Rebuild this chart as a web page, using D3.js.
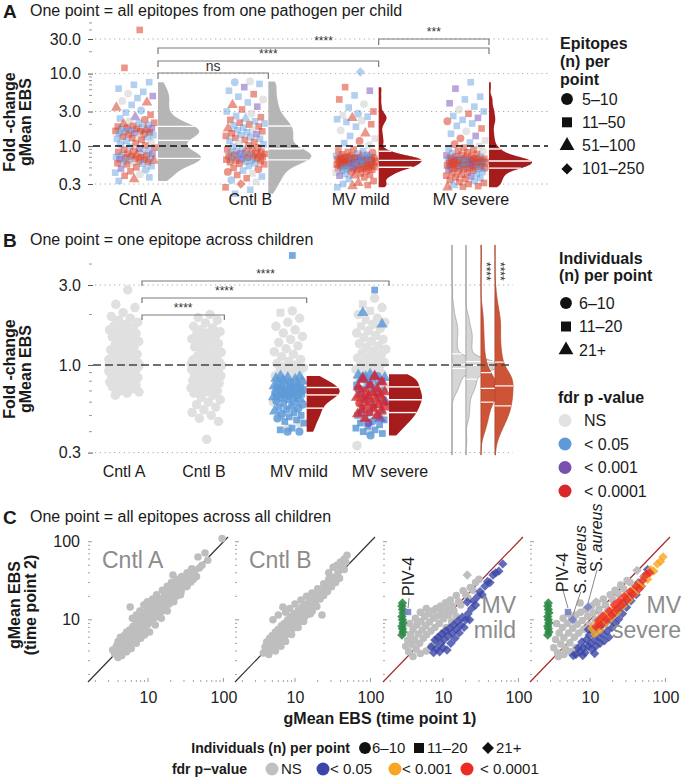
<!DOCTYPE html>
<html><head><meta charset="utf-8">
<script src="https://cdn.jsdelivr.net/npm/d3@7/dist/d3.min.js"></script>
<style>
html,body{margin:0;padding:0;background:#fff;}
svg{display:block;}
text{font-family:"Liberation Sans",Arial,Helvetica,sans-serif;}
</style></head><body>
<svg id="chart" width="682" height="778"></svg>
<script>
// ================= DATA =================
const groups = ["Cntl A","Cntl B","MV mild","MV severe"];
const aTickValues = [0.3,1,3,10,30];
const aTickLabels = ["0.3","1.0","3.0","10.0","30.0"];
const bTickValues = [0.3,1,3];
const bTickLabels = ["0.3","1.0","3.0"];
const cTickValues = [10,100];
const cTickLabels = ["10","100"];

// Panel A: fold-change per pathogen per child (colour: g=NS b=<0.05 p=<0.001 r=<0.0001 ; shape: c,s,t,d)
const aCntlA = [40,12,7.6,7.0,6.2,5.6,5.3,4.9,4.6,4.2,4.0,3.7,3.4,3.1,2.9,2.7,2.5,2.4,2.3,2.2,2.1,2.05,2.0,1.95,1.9,1.86,1.82,1.78,1.75,1.72,1.7,1.67,1.64,1.62,1.6,1.58,1.55,1.52,1.5,1.47,1.44,1.41,1.38,1.35,1.32,1.29,1.26,1.22,1.18,1.14,1.1,1.06,1.02,0.98,0.95,0.92,0.89,0.87,0.85,0.83,0.81,0.79,0.78,0.76,0.75,0.74,0.72,0.71,0.7,0.69,0.68,0.67,0.66,0.65,0.64,0.63,0.62,0.61,0.6,0.59,0.58,0.57,0.56,0.53,0.51,0.49,0.47,0.45,0.43,0.41,0.39,0.37,0.35,0.33];
const aCntlACol = "rr"+"bbbbgpbgrbrbbrpbrg"+"rbrbrrbrprbrbrrbrpbrrbgrbrb"+"rbgrbrbrp"+"rbrrbrprbrrbrrbrprbrrbrgrbr"+"brpbrbgrbrb";
const aCntlAShp = "ss"+"sssscssctstcsstscc"+"sstcssscssstssscssscsscstss"+"sscscssss"+"sscsssstsscssscsssstssscsss"+"ssscsscssts";

const aCntlB = [7.8,7.6,7.2,6.5,5.8,5.2,4.8,4.4,4.0,3.7,3.5,3.2,3.0,2.8,2.6,2.5,2.4,2.3,2.2,2.1,2.05,1.98,1.92,1.86,1.8,1.75,1.7,1.65,1.6,1.55,1.5,1.46,1.42,1.38,1.34,1.3,1.26,1.22,1.18,1.14,1.1,1.06,1.02,0.98,0.95,0.92,0.9,0.88,0.86,0.84,0.83,0.81,0.8,0.79,0.78,0.77,0.76,0.75,0.74,0.73,0.72,0.71,0.7,0.69,0.68,0.67,0.66,0.65,0.64,0.63,0.62,0.61,0.6,0.58,0.57,0.56,0.53,0.5,0.48,0.46,0.44,0.42,0.4,0.38,0.36,0.34,0.32,0.3,0.27,0.25,0.22];
const aCntlBCol = "gbbpbrbgbrprbgbrbrb"+"rbrbrbrgbrbrpbrbrbr"+"brgbrbrb"+"rrbrrbrprbrrbrrbrrbrprbrrbrbrr"+"brrbrgrbrbgrrbb";
const aCntlBShp = "ccssssscstssscsstss"+"ssscsstcssssssscsss"+"sscssscs"+"sssscsssssstssscsssssscssssss"+"ssscscsssscsdss";

const aMVmild = [10.5,6.5,5.8,5.0,4.4,3.8,3.4,3.0,2.8,2.65,2.55,2.45,2.35,2.25,2.15,2.0,1.85,1.65,1.5,1.38,1.27,1.18,1.1,1.03,0.9,0.87,0.85,0.83,0.81,0.79,0.77,0.755,0.74,0.73,0.72,0.715,0.71,0.705,0.7,0.695,0.69,0.685,0.68,0.675,0.67,0.665,0.66,0.655,0.65,0.645,0.64,0.635,0.63,0.625,0.62,0.615,0.61,0.605,0.6,0.595,0.59,0.585,0.58,0.575,0.57,0.565,0.56,0.555,0.55,0.545,0.54,0.535,0.53,0.525,0.52,0.515,0.51,0.505,0.5,0.495,0.49,0.485,0.48,0.475,0.47,0.46,0.45,0.44,0.43,0.42,0.41,0.4,0.395,0.39,0.37,0.35,0.33,0.31,0.3,0.29,0.28,0.27];
const aMVmildCol = "brpbrgbrbgbrbgbr"+"bgrbgrbg"+"rrbrrbrprb"+"rrbrrbrrpr"+"brrbrrbrrb"+"rprbrrbrrb"+"rrprbrrbrr"+"brrbrprrbr"+"rbrrgrbrrp"+"rbrrbrrb";
const aMVmildShp = "dsssscsscsstscss"+"sctsscsc"+"sssscsssss"+"tsssssscss"+"sssstsssss"+"csssssssts"+"ssssscssss"+"sstsssssss"+"ssscssssts"+"ssstssts";

const aMVsevere = [7.6,6.2,4.8,4.4,3.9,3.5,3.2,3.0,2.8,2.6,2.45,2.3,2.2,2.05,1.9,1.75,1.6,1.48,1.38,1.28,1.2,1.12,1.06,1.0,0.95,0.92,0.89,0.86,0.84,0.82,0.8,0.78,0.76,0.745,0.73,0.72,0.71,0.7,0.69,0.68,0.675,0.67,0.665,0.66,0.655,0.65,0.645,0.64,0.635,0.63,0.625,0.62,0.615,0.61,0.605,0.6,0.595,0.59,0.585,0.58,0.575,0.57,0.565,0.56,0.555,0.55,0.545,0.54,0.535,0.53,0.525,0.52,0.515,0.51,0.505,0.5,0.495,0.49,0.485,0.48,0.47,0.46,0.45,0.44,0.43,0.42,0.41,0.4,0.39,0.38,0.37,0.36,0.35,0.34,0.33,0.32,0.31,0.3,0.29,0.28,0.275,0.27];
const aMVsevereCol = "bpbbpbgbrbpbrb"+"brgbprgbrg"+"rbrrgrbrrp"+"rrbrrrbrrp"+"rrbrrrbrrb"+"rprrbrrrbr"+"rbrrprrbrr"+"brrrbrprrb"+"rrbrrprbrr"+"br"+"rrbrrr";
const aMVsevereShp = "sssssscssssscs"+"sscsscsscs"+"sssscsssss"+"ssstssssss"+"sssssscsss"+"ssssssssts"+"ssssssssss"+"scssssssss"+"ssstssssss"+"ss"+"sstsst";

const aSigPairs = [[0,1],[0,2],[0,3],[2,3]];
const aSigLabels = ["ns","****","****","***"];

// Panel B: fold-change per epitope across children
const bCntlA = [2.8,2.3,2.2,2.05,1.95,1.9,1.85,1.8,1.75,1.72,1.68,1.65,1.62,1.6,1.57,1.54,1.5,1.47,1.44,1.41,1.38,1.35,1.32,1.29,1.26,1.23,1.2,1.18,1.16,1.14,1.12,1.1,1.09,1.08,1.07,1.06,1.05,1.045,1.04,1.035,1.03,1.028,1.026,1.025,1.022,1.02,1.018,1.016,1.015,1.013,1.012,1.01,1.008,1.006,1.005,1.004,1.003,1.002,1.001,1.0,1.0,0.999,0.998,0.997,0.996,0.995,0.994,0.993,0.992,0.99,0.988,0.987,0.985,0.983,0.982,0.98,0.978,0.976,0.975,0.972,0.97,0.965,0.96,0.955,0.95,0.945,0.94,0.93,0.92,0.91,0.9,0.89,0.88,0.87,0.86,0.85,0.84,0.83,0.82,0.81,0.8,0.79,0.78,0.77,0.76,0.75,0.74,0.72,0.7,0.69,0.68,0.66];
const bCntlB = [2.0,1.92,1.85,1.78,1.7,1.66,1.62,1.58,1.55,1.52,1.49,1.46,1.43,1.4,1.37,1.34,1.31,1.28,1.25,1.22,1.19,1.16,1.13,1.11,1.09,1.07,1.05,1.04,1.035,1.03,1.027,1.025,1.022,1.02,1.018,1.016,1.014,1.012,1.01,1.008,1.006,1.005,1.004,1.003,1.002,1.0,1.0,0.999,0.998,0.997,0.996,0.995,0.994,0.992,0.99,0.988,0.986,0.984,0.982,0.98,0.977,0.975,0.972,0.97,0.965,0.96,0.95,0.94,0.93,0.92,0.91,0.9,0.89,0.88,0.87,0.86,0.85,0.84,0.83,0.82,0.81,0.8,0.79,0.78,0.77,0.76,0.75,0.74,0.73,0.72,0.71,0.7,0.69,0.68,0.66,0.64,0.62,0.6,0.58,0.56,0.54,0.52,0.5,0.48,0.46,0.36];
const bMildGray = [2.1,2.05,1.9,1.8,1.7,1.62,1.55,1.48,1.42,1.36,1.3,1.25,1.2,1.16,1.12,1.08,1.05,1.02,1.0,0.98,0.96,0.94,0.92,0.9,0.88,0.86,0.84,0.82,0.8,0.78,0.75,0.7,0.65,0.6,0.55,0.5,0.45,0.42];
const bMildBlue = [4.5,0.86,0.85,0.84,0.83,0.82,0.81,0.8,0.79,0.78,0.77,0.76,0.75,0.745,0.74,0.735,0.73,0.725,0.72,0.715,0.71,0.705,0.7,0.695,0.69,0.685,0.68,0.675,0.67,0.665,0.66,0.655,0.65,0.645,0.64,0.635,0.63,0.62,0.61,0.6,0.59,0.58,0.57,0.56,0.55,0.54,0.53,0.52,0.51,0.5,0.49,0.48,0.47,0.46,0.45,0.42,0.41,0.4,0.4];
const bMildBlueShp = "sttttttts"+"ctstcsstct"+"sctstscsts"+"ctsstcstsc"+"tsctscstsc"+"sscsssss";
const bSevGray = [2.5,2.3,2.2,2.1,2.0,1.9,1.85,1.8,1.75,1.7,1.65,1.6,1.55,1.5,1.46,1.42,1.38,1.34,1.3,1.27,1.24,1.21,1.18,1.15,1.12,1.1,1.08,1.06,1.04,1.02,1.0,0.98,0.96,0.94,0.92,0.9,0.88,0.86,0.84,0.82,0.8,0.75,0.7,0.6,0.5,0.4,0.33];
const bSevGrayShp = "cscsccsccscc";
const bSevBlue = [2.8,2.05,1.75,0.88,0.87,0.86,0.85,0.84,0.83,0.82,0.8,0.78,0.76,0.74,0.72,0.7,0.68,0.66,0.64,0.62,0.6,0.58,0.56,0.54,0.52,0.5,0.49,0.48,0.47,0.46,0.45,0.44,0.43,0.42,0.41,0.4,0.39,0.38];
const bSevBlueShp = "sttttcttsttcstscttsctsstcsssscsssssss";
const bSevPurple = [0.86,0.84,0.8,0.76,0.72,0.68,0.64,0.6,0.56,0.52,0.48,0.45];
const bSevPurpleShp = "ttstctstsstc";
const bSevRed = [0.85,0.82,0.79,0.76,0.74,0.72,0.7,0.69,0.68,0.67,0.66,0.65,0.64,0.63,0.62,0.61,0.6,0.59,0.58,0.57,0.56,0.55,0.54,0.53,0.52,0.51,0.5,0.48];
const bSevRedShp = "tttsttcttsttttsttctttsttsttt";
const bSigPairs = [[0,1],[0,2],[0,3]];
const bSigLabels = ["****","****","****"];
const bDensStars = ["","","****","****"];

// Panel C: gMean EBS time point 1 (x) vs time point 2 (y)
const cCntlA = [[3.4,4.1],[3.6,3.7],[3.9,3.5],[3.8,4.6],[4.0,5.3],[4.2,4.0],[4.3,6.0],[4.5,4.6],[4.6,5.5],[4.8,3.9],[4.9,6.4],[5.0,5.0],[5.2,7.0],[5.4,4.4],[5.5,5.9],[5.8,14.6],[5.7,7.4],[6.0,5.2],[6.1,6.6],[6.3,8.2],[6.5,5.8],[6.7,7.5],[6.9,9.0],[7.0,6.2],[7.3,8.1],[7.5,10.2],[7.6,6.9],[7.9,8.8],[8.2,11.0],[8.3,7.4],[8.6,9.6],[8.9,12.5],[9.1,8.0],[9.4,10.4],[9.8,13.0],[10.0,8.8],[10.4,11.2],[10.8,14.5],[11.0,9.5],[11.5,12.4],[12.0,15.8],[12.2,10.6],[12.8,13.4],[13.3,17.0],[13.6,11.7],[14.2,14.8],[14.8,18.5],[15.2,12.9],[15.9,16.2],[16.5,20.5],[17.0,14.3],[17.8,18.0],[18.5,22.4],[19.0,16.0],[20.0,20.2],[21.4,37.5],[21.0,24.5],[21.5,18.3],[22.5,22.6],[23.5,27.0],[24.2,20.2],[25.5,25.0],[26.5,29.8],[27.5,23.0],[29.0,28.5],[30.5,33.0],[31.5,26.5],[33.5,32.0],[35.5,37.5],[37.0,30.5],[40.0,37.0],[42.0,43.0],[44.0,36.0],[46.0,64.0],[48.0,46.0],[52.0,50.0],[57.0,72.0],[62.0,58.0],[96,110],[6.2,10.5],[7.0,11.5],[7.8,13.0],[8.8,15.5],[9.8,17.0],[11.5,18.5],[13.0,21.0],[15.5,24.0],[18.0,27.0],[20.5,30.0],[24.0,33.0],[28.0,36.0],[33.0,40.0],[38.0,45.0],[10.5,7.0],[12.5,8.6],[15,10.5],[18,13],[22,17],[27,21],[33,27],[40,33],[4.0,3.3],[4.5,3.5],[5.2,3.9],[6.0,4.3],[7.0,5.0],[8.0,5.8],[9.0,6.4]];
const cCntlB = [[3.8,3.76],[4.0,4.5],[4.2,5.2],[4.1,3.9],[4.4,4.3],[4.6,5.8],[4.7,4.8],[4.9,4.1],[5.0,6.3],[5.1,10.0],[5.2,5.2],[5.4,4.5],[5.5,7.0],[5.7,5.8],[5.9,4.9],[6.0,7.6],[6.0,11.5],[6.2,6.3],[6.4,5.4],[6.6,8.4],[6.8,7.0],[6.9,14.6],[7.0,5.9],[7.2,9.0],[7.4,7.6],[7.5,12.5],[7.7,6.5],[8.0,10.0],[8.2,8.4],[8.5,7.1],[8.5,14.0],[8.8,11.0],[9.0,9.2],[9.4,7.8],[9.8,12.0],[10.0,16.0],[10.1,10.0],[10.5,8.6],[11.0,13.2],[11.3,11.0],[11.8,9.6],[12.0,18.0],[12.3,14.5],[12.7,12.1],[13.3,10.7],[14.0,16.0],[14.2,20.0],[14.4,13.4],[15.0,11.8],[15.8,17.5],[16.3,14.8],[16.8,22.0],[17.0,13.0],[18.0,19.5],[18.5,16.5],[19.5,14.8],[20.0,25.0],[20.5,22.0],[21.5,18.5],[22.8,11.5],[23.0,24.5],[24.0,20.5],[24.0,29.0],[25.5,27.5],[27.0,23.0],[28.0,40.0],[28.0,33.0],[29.0,31.0],[30.5,26.5],[32.0,47.0],[32.5,35.0],[34.5,30.0],[36.0,50.0],[37.0,40.0],[39.0,34.0],[40.0,55.0],[42.0,47.0],[45.0,60.0],[45.0,44.0],[47.0,55.0],[49.0,67.0],[4.5,3.6],[5.5,4.0],[6.5,4.6],[7.5,5.3],[9.0,6.5],[11,8],[13,9.5],[16,12],[19,15]];
const cMildGray = [[3.2,4.6],[3.4,5.5],[3.5,3.9],[3.7,6.5],[3.9,4.8],[4.0,7.5],[4.2,5.6],[4.4,4.2],[4.5,8.6],[4.7,6.6],[4.9,5.0],[5.1,9.5],[5.3,7.4],[5.5,5.8],[5.7,11.0],[5.9,8.4],[6.1,6.5],[6.4,12.0],[6.6,9.4],[6.9,7.2],[7.2,13.0],[7.5,10.5],[7.8,8.0],[8.1,14.0],[8.5,11.2],[8.9,9.0],[9.3,15.0],[9.7,12.5],[10.2,10.3],[10.8,16.5],[11.3,13.8],[11.9,11.5],[12.5,18.0],[13.2,15.0],[14.0,13.0],[15.0,20.5],[16.0,17.0],[17.2,15.5],[18.5,23.5],[20.0,21.0],[21.5,19.0],[23.0,26.0],[25.0,24.0],[27.0,30.0],[30.0,33.0],[6.0,4.0],[7.0,4.6],[8.0,5.2],[9.0,6.0],[10.0,6.8],[5.0,3.7],[4.0,3.4],[11,8],[13,9.5],[15,11],[3.6,9.0],[4.3,10.5],[5.0,12.5],[6.0,14.0]];
const cMildGrayDia = [[21,37.5]];
const cMildBlue = [[7.0,4.5],[7.5,3.8],[7.8,5.5],[8.2,4.3],[8.6,6.0],[9.0,3.9],[9.3,5.0],[9.6,6.6],[10.0,4.4],[10.4,5.6],[10.8,7.2],[11.3,4.1],[11.7,6.2],[12.2,7.8],[12.7,5.0],[13.2,6.8],[13.8,8.6],[14.4,5.8],[15.0,7.6],[15.7,9.6],[16.4,6.8],[17.2,8.6],[18.0,10.8],[19.0,8.0],[20.0,10.0],[21.0,16.9],[21.5,12.0],[22.5,10.0],[24.0,14.0],[25.5,17.5],[27.0,15.5],[29.0,20.0],[31.0,23.0],[33.0,21.0],[36.0,27.0],[39.0,31.0],[42.0,30.0],[46.0,37.5],[50.0,40.0],[55.0,42.0],[62.0,52.0]];
const cMildGreen = [[2.85,6.4],[2.95,7.0],[2.9,7.7],[2.85,8.3],[2.95,9.1],[2.9,10.0],[2.85,11.0],[2.95,12.3],[2.9,13.6],[2.85,15.0],[2.9,16.4]];
const cMildLabelPts = [[3.44,12.6]];
const cMildLabelNames = ["PIV-4"];
const cSevGray = [[3.3,4.4],[3.5,5.6],[3.7,3.8],[3.9,6.8],[4.1,4.9],[4.3,8.0],[4.5,5.9],[4.7,4.3],[5.0,9.0],[5.2,6.8],[5.4,5.1],[5.7,10.2],[5.9,7.8],[6.2,6.0],[6.5,11.5],[6.8,8.8],[7.1,6.8],[7.4,16.4],[7.5,12.5],[7.9,9.8],[8.3,7.6],[8.8,13.5],[9.3,11.0],[9.8,8.6],[10.4,15.0],[11.0,12.3],[11.7,10.0],[12.4,16.5],[13.2,13.8],[14.0,11.4],[15.0,18.5],[16.0,15.5],[17.2,13.0],[18.5,21.0],[20.0,18.0],[21.5,24.0],[23.5,21.5],[25.5,28.0],[28.0,25.0],[31.0,32.0],[34.0,30.0],[3.8,3.4],[4.5,3.6],[5.5,3.9],[6.5,4.4],[3.6,9.0],[4.4,10.5],[5.2,12.0]];
const cSevGrayDia = [[42,43],[12,17]];
const cSevBlue = [[6.5,3.6],[7.0,4.4],[7.4,3.9],[7.8,5.2],[8.2,4.4],[8.6,3.8],[9.0,5.6],[9.4,4.6],[9.8,6.4],[10.2,5.0],[10.6,4.2],[11.0,7.0],[11.5,5.6],[12.0,4.6],[12.5,7.8],[13.0,6.0],[13.6,5.0],[14.2,8.4],[14.8,6.6],[15.5,5.4],[16.2,9.2],[17.0,7.2],[17.8,6.0],[18.7,10.2],[19.6,8.0],[20.6,11.8],[21.6,9.0],[22.7,13.0],[24.0,10.2],[25.3,14.8],[27.0,12.0],[28.5,17.0],[30.5,14.5],[32.5,20.0],[35.0,17.5],[38.0,24.0],[41.0,21.0],[44.0,30.0],[48.0,27.0],[52.0,36.0],[58.0,44.0],[6.0,3.5],[8.0,3.5],[11.5,3.7],[9.5,7.5]];
const cSevOrange = [[10.5,7.8],[11.5,6.6],[12.5,9.2],[13.5,7.4],[14.5,10.5],[16.0,9.0],[17.5,12.0],[19.0,10.5],[21.0,14.0],[23.0,12.5],[25.0,16.5],[27.5,15.0],[30.0,20.0],[33.0,18.0],[36.0,24.0],[40.0,22.0],[44.0,29.0],[48.0,27.0],[53.0,36.0],[58.0,33.0],[64.0,44.0],[70.0,42.0],[78.0,52.0],[86.0,56.0],[93.0,64.0]];
const cSevRed = [[12.0,8.2],[13.0,9.8],[14.0,8.6],[15.0,11.2],[16.5,10.0],[18.0,13.0],[19.5,11.5],[21.0,15.5],[22.5,13.5],[24.5,17.5],[26.5,15.5],[28.5,20.0],[31.0,18.0],[34.0,23.0],[37.0,21.0],[41.0,27.0],[45.0,25.0],[50.0,32.0],[56.0,38.0],[62.0,40.0]];
const cSevGreen = [[2.75,6.4],[2.85,7.0],[2.8,7.7],[2.75,8.3],[2.85,9.1],[2.8,10.0],[2.75,11.0],[2.85,12.3],[2.8,13.6],[2.75,15.0],[2.8,16.4]];
const cSevLabelPts = [[5.1,12.6],[5.9,10.0],[9.4,14.6]];
const cSevLabelNames = ["PIV-4","S. aureus","S. aureus"];
const cPanelNames = [["Cntl A"],["Cntl B"],["MV","mild"],["MV","severe"]];

// ================= HELPERS =================
const svg = d3.select("#chart");
function txt(g,x,y,s,o){ o=o||{};
  const t=g.append("text").attr("x",x).attr("y",y).text(s)
    .attr("font-size",o.size||15).attr("font-weight",o.weight||"normal")
    .attr("fill",o.fill||"#1a1a1a").attr("text-anchor",o.anchor||"start");
  if(o.rotate) t.attr("transform",`rotate(${o.rotate},${x},${y})`);
  if(o.style) t.attr("font-style",o.style);
  return t; }
function symPath(code,size){
  const t = code==='c'?d3.symbolCircle:(code==='t'?d3.symbolTriangle:d3.symbolSquare);
  return d3.symbol(t,size)(); }
function drawSym(g,code,x,y,size,fill,op){
  g.append("path").attr("d",symPath(code,size))
   .attr("transform",`translate(${x},${y})`+(code==='d'?' rotate(45)':''))
   .attr("fill",fill).attr("fill-opacity",op==null?1:op); }
const jit = i => ((i+1)*0.6180339887)%1;
function kde1(lv,bw,x){ let s=0; for(const v of lv){const z=(x-v)/bw; s+=Math.exp(-0.5*z*z);} return s/(lv.length*bw*Math.sqrt(2*Math.PI)); }
function nrd0(lv){ const s=lv.slice().sort(d3.ascending); const sd=d3.deviation(s);
  const iqr=d3.quantileSorted(s,0.75)-d3.quantileSorted(s,0.25);
  let lo=Math.min(sd, iqr/1.34); if(!lo) lo=sd||0.1; return 0.9*lo*Math.pow(s.length,-0.2); }
function halfViolin(g, vals, yS, x0, maxW, fill, o){ o=o||{};
  const lv=vals.map(v=>Math.log10(v)).sort(d3.ascending);
  const bw=o.bw!=null?o.bw:nrd0(lv)*(o.adjust||1);
  const lo=o.lo!=null?Math.log10(o.lo):lv[0], hi=o.hi!=null?Math.log10(o.hi):lv[lv.length-1];
  const n=300, grid=d3.range(n+1).map(i=>lo+(hi-lo)*i/n);
  const dens=grid.map(gv=>kde1(lv,bw,gv));
  const wS=d3.scaleLinear().domain([0,d3.max(dens)]).range([0,maxW]);
  const pts=grid.map((gv,i)=>[yS(Math.pow(10,gv)), wS(dens[i])]);
  g.append("path").attr("d", d3.area().y(d=>d[0]).x0(x0).x1(d=>x0+d[1])(pts))
   .attr("fill",fill).attr("stroke",o.stroke||"none").attr("stroke-width",0.8);
  [0.25,0.5,0.75].forEach(q=>{ const qv=d3.quantileSorted(lv,q); const w=wS(kde1(lv,bw,qv));
    const yy=yS(Math.pow(10,qv));
    g.append("line").attr("x1",x0).attr("x2",x0+w).attr("y1",yy).attr("y2",yy).attr("stroke","#fff").attr("stroke-width",o.qw||1.4); });
}
function styleAxis(sel,size){
  sel.select(".domain").remove();
  sel.selectAll(".tick line").attr("stroke","#555").attr("stroke-width",1);
  sel.selectAll(".tick text").attr("font-size",size||15).attr("fill","#222")
     .attr("font-family",'"Liberation Sans",Arial,Helvetica,sans-serif');
}
function bracket(g,x1,x2,y,label,tip){
  g.append("path").attr("d",`M${x1},${y+tip}V${y}H${x2}V${y+tip}`).attr("fill","none").attr("stroke","#7a7a7a").attr("stroke-width",1.2);
  txt(g,(x1+x2)/2,label==="ns"?y-2:y-3,label,{size:label==="ns"?14:12,anchor:"middle",fill:"#333"});
}

// ================= PANEL A =================
(function(){
  const g=svg.append("g");
  const yS=d3.scaleLog().domain([0.3,30]).range([184,39]);
  const xS=d3.scalePoint().domain(groups).range([158,489]);
  const aData=[[aCntlA,aCntlACol,aCntlAShp],[aCntlB,aCntlBCol,aCntlBShp],[aMVmild,aMVmildCol,aMVmildShp],[aMVsevere,aMVsevereCol,aMVsevereShp]];
  const fill={b:"#4a8fdc",r:"#d8402a",p:"#7e5bbd",g:"#c4c4c4"};
  const op={b:0.42,r:0.55,p:0.55,g:0.45};
  aTickValues.forEach(v=>{ if(v!==1) g.append("line").attr("x1",95).attr("x2",548).attr("y1",yS(v)).attr("y2",yS(v)).attr("stroke","#a8a8a8").attr("stroke-dasharray","1.2,3.6"); });
  const ax=g.append("g").attr("transform","translate(93,0)")
    .call(d3.axisLeft(yS).tickValues(aTickValues).tickFormat((d,i)=>aTickLabels[i]).tickSize(5).tickPadding(7));
  styleAxis(ax,16);
  [0.4,0.5,0.6,0.7,0.8,0.9,2,4,5,6,7,8,9,20,40,50].forEach(v=>{
    g.append("line").attr("x1",89).attr("x2",92).attr("y1",yS(v)).attr("y2",yS(v)).attr("stroke","#999"); });
  aData.forEach((d,gi)=>{
    const [vals,col,shp]=d; const cx=xS(groups[gi]);
    vals.forEach((v,i)=>{ const c=col[i]||"g", s=shp[i]||"s";
      drawSym(g,s,cx-23+(jit(i)-0.5)*40,yS(v),s==='c'?48:(s==='t'?50:44),fill[c],op[c]); });
    const inRange=vals.filter(v=>v<=10);
    halfViolin(g,inRange,yS,cx,43,gi<2?"#b5b5b5":"#a61c1c",{adjust:0.65});
    txt(g,cx-18,205,groups[gi],{size:16,anchor:"middle"});
  });
  g.append("line").attr("x1",93).attr("x2",548).attr("y1",yS(1)).attr("y2",yS(1)).attr("stroke","#111").attr("stroke-width",1.5).attr("stroke-dasharray","7,4");
  const bY=[73,61,48,39];
  aSigPairs.forEach((p,i)=>bracket(g,xS(groups[p[0]]),xS(groups[p[1]]),bY[i],aSigLabels[i],6));
  txt(g,3,18,"A",{size:19,weight:"bold"});
  txt(g,30,16,"One point = all epitopes from one pathogen per child",{size:16});
  txt(g,15,122,"Fold -change",{size:16,weight:"bold",anchor:"middle",rotate:-90});
  txt(g,31,122,"gMean EBS",{size:16,weight:"bold",anchor:"middle",rotate:-90});
  txt(g,560,49,"Epitopes",{size:16,weight:"bold"});
  txt(g,560,67,"(n) per",{size:16,weight:"bold"});
  txt(g,560,85,"point",{size:16,weight:"bold"});
  [["c","5–10"],["s","11–50"],["t","51–100"],["d","101–250"]].forEach((e,i)=>{
    const y=99+i*23.3; drawSym(g,e[0],567,y,e[0]==='d'?62:(e[0]==='s'?100:(e[0]==='t'?95:110)),"#111",1);
    txt(g,582,y+5.5,e[1],{size:16}); });
})();

// ================= PANEL B =================
(function(){
  const g=svg.append("g");
  const yS=d3.scaleLog().domain([0.3,3]).range([452.6,285]);
  const xS=d3.scalePoint().domain(groups).range([142,389]);
  const fill={g:"#e0e0e0",b:"#5e9ad8",p:"#7a4fae",r:"#d9262a"};
  bTickValues.forEach(v=>{ if(v!==1) g.append("line").attr("x1",95).attr("x2",513).attr("y1",yS(v)).attr("y2",yS(v)).attr("stroke","#a8a8a8").attr("stroke-dasharray","1.2,3.6"); });
  const ax=g.append("g").attr("transform","translate(93,0)")
    .call(d3.axisLeft(yS).tickValues(bTickValues).tickFormat((d,i)=>bTickLabels[i]).tickSize(5).tickPadding(7));
  styleAxis(ax,16);
  [0.4,0.5,0.6,0.7,0.8,0.9,2,4].forEach(v=>{
    g.append("line").attr("x1",89).attr("x2",92).attr("y1",yS(v)).attr("y2",yS(v)).attr("stroke","#999"); });
  function pts(vals,gi,color,shp,op,def,sz){
    const cx=xS(groups[gi]);
    vals.forEach((v,i)=>{ const s=(shp&&shp[i])||def;
      drawSym(g,s,cx-18+(jit(i)-0.5)*31,yS(v),(sz||1)*(s==='c'?52:(s==='t'?56:46)),fill[color],op); }); }
  pts(bCntlA,0,"g","",1,"c",1.35);
  pts(bCntlB,1,"g","",1,"c",1.35);
  pts(bMildGray,2,"g","cscc",1,"c",1.35);
  pts(bSevGray,3,"g",bSevGrayShp,1,"c",1.35);
  pts(bMildBlue,2,"b",bMildBlueShp,0.85,"c");
  pts(bSevBlue,3,"b",bSevBlueShp,0.85,"c");
  pts(bSevPurple,3,"p",bSevPurpleShp,0.8,"t");
  pts(bSevRed,3,"r",bSevRedShp,0.78,"t");
  const mildSig=bMildBlue.filter(v=>v<1);
  const sevSig=bSevBlue.concat(bSevPurple,bSevRed).filter(v=>v<1);
  halfViolin(g,mildSig,yS,xS(groups[2]),33,"#a61c1c",{adjust:1.0});
  halfViolin(g,sevSig,yS,xS(groups[3]),33,"#a61c1c",{adjust:1.0});
  const labelX=[124,204,299,390];
  groups.forEach((n,i)=>txt(g,labelX[i],477,n,{size:16,anchor:"middle"}));
  // density sub-panel
  const dX=[452,466,481,495];
  const dAll=[bCntlA,bCntlB,bMildGray.concat(bMildBlue),bSevGray.concat(bSevBlue,bSevPurple,bSevRed)];
  const dW=[36,34,17,18];
  const dBw=[0.03,0.03,0.05,0.05];
  dX.forEach((x,i)=>g.append("line").attr("x1",x).attr("x2",x).attr("y1",245).attr("y2",455).attr("stroke","#c4c4c4").attr("stroke-width",1));
  dAll.forEach((vals,i)=>halfViolin(g,vals,yS,dX[i],dW[i],i<2?"#d6d6d6":"#cd5436",{lo:0.29,hi:5.2,stroke:i<2?"#a0a0a0":"#b8452a",bw:dBw[i],qw:1.2}));
  bDensStars.forEach((s,i)=>{ if(s){ txt(g,dX[i]+1,262,s,{size:12,fill:"#333",rotate:90}); } });
  g.append("line").attr("x1",93).attr("x2",513).attr("y1",yS(1)).attr("y2",yS(1)).attr("stroke","#444").attr("stroke-width",1.5).attr("stroke-dasharray","8,4");
  const bY=[315,298,281];
  bSigPairs.forEach((p,i)=>bracket(g,xS(groups[p[0]]),xS(groups[p[1]]),bY[i],bSigLabels[i],5));
  txt(g,3,247,"B",{size:19,weight:"bold"});
  txt(g,30,245,"One point = one epitope across children",{size:16});
  txt(g,15,369,"Fold -change",{size:16,weight:"bold",anchor:"middle",rotate:-90});
  txt(g,31,369,"gMean EBS",{size:16,weight:"bold",anchor:"middle",rotate:-90});
  txt(g,559,264,"Individuals",{size:16,weight:"bold"});
  txt(g,559,281,"(n) per point",{size:16,weight:"bold"});
  [["c","6–10"],["s","11–20"],["t","21+"]].forEach((e,i)=>{
    const y=303+i*23.5; drawSym(g,e[0],566,y,e[0]==='s'?100:(e[0]==='t'?95:110),"#111",1);
    txt(g,579,y+5.5,e[1],{size:16}); });
  txt(g,558,403,"fdr p -value",{size:16,weight:"bold"});
  [["#e2e2e2","NS"],["#5e9ad8","< 0.05"],["#7a4fae","< 0.001"],["#d9262a","< 0.0001"]].forEach((e,i)=>{
    const y=420.5+i*23.5; g.append("circle").attr("cx",565).attr("cy",y).attr("r",6.5).attr("fill",e[0]);
    txt(g,584,y+5.5,e[1],{size:16}); });
})();

// ================= PANEL C =================
(function(){
  const g=svg.append("g");
  const x0s=[88,235,383,530];
  const yS=d3.scaleLog().domain([1.6,115]).range([682,537]);
  const col={g:"#bebebe",b:"#3b46a8",o:"#f6a623",r:"#ee2a24",gr:"#2e8b47",lab:"#7a7fc4"};
  x0s.forEach((x0,pi)=>{
    const xS=d3.scaleLog().domain([1.6,115]).range([x0,x0+140]);
    [2,3,4,5,6,7,8,9,10,20,30,40,50,60,70,80,90,100].forEach(v=>{
      const major=(v===10||v===100);
      g.append("line").attr("x1",x0).attr("x2",x0+(major?4:2)).attr("y1",yS(v)).attr("y2",yS(v)).attr("stroke","#9a9a9a").attr("stroke-width",major?1:0.9);
      g.append("line").attr("x1",xS(v)).attr("x2",xS(v)).attr("y1",682).attr("y2",682-(major?4:2)).attr("stroke","#9a9a9a").attr("stroke-width",major?1:0.9);
    });
    const xa=g.append("g").attr("transform","translate(0,682)")
      .call(d3.axisBottom(xS).tickValues(cTickValues).tickFormat((d,i)=>cTickLabels[i]).tickSize(0).tickPadding(10));
    styleAxis(xa,16);
    if(pi===0){
      const ya=g.append("g").attr("transform",`translate(${x0},0)`)
        .call(d3.axisLeft(yS).tickValues(cTickValues).tickFormat((d,i)=>cTickLabels[i]).tickSize(0).tickPadding(8));
      styleAxis(ya,16);
    }
    const lo=1.6, hi=115;
    g.append("line").attr("x1",xS(lo)).attr("y1",yS(lo)).attr("x2",xS(hi)).attr("y2",yS(hi))
      .attr("stroke",pi<2?"#333":"#a52a2a").attr("stroke-width",1.2);
    const P=(arr,c,shape,size,op)=>arr.forEach(d=>drawSym(g,shape,xS(d[0]),yS(d[1]),size,col[c],op));
    if(pi===0) P(cCntlA,"g","c",44,1);
    if(pi===1) P(cCntlB,"g","c",44,1);
    if(pi===2){
      P(cMildGray,"g","c",44,1); P(cMildGrayDia,"g","d",44,1);
      P(cMildBlue,"b","d",44,0.8); P(cMildGreen,"gr","d",44,0.9);
      P(cMildLabelPts,"lab","s",40,0.9);
      const [px,py]=[xS(cMildLabelPts[0][0]),yS(cMildLabelPts[0][1])];
      g.append("line").attr("x1",px).attr("y1",py-4).attr("x2",px+1).attr("y2",py-14).attr("stroke","#888");
      txt(g,px+6,py-16,cMildLabelNames[0],{size:16,rotate:-90});
    }
    if(pi===3){
      P(cSevGray,"g","c",44,1); P(cSevGrayDia,"g","d",44,1);
      P(cSevBlue,"b","d",44,0.8); P(cSevOrange,"o","d",44,0.8); P(cSevRed,"r","d",44,0.8);
      P(cSevGreen,"gr","d",44,0.9);
      const offs=[[0,-20],[13,-26],[14,-35]];
      cSevLabelPts.forEach((d,i)=>{
        const px=xS(d[0]), py=yS(d[1]);
        drawSym(g,i===0?"s":"d",px,py,40,col.lab,0.9);
        const [dx,dy]=offs[i];
        g.append("line").attr("x1",px+dx-5).attr("y1",py+dy-2).attr("x2",px).attr("y2",py-4).attr("stroke","#888");
        const t=g.append("text").attr("x",px+dx).attr("y",py+dy).attr("font-size",16).attr("fill","#1a1a1a")
          .attr("transform",`rotate(-90,${px+dx},${py+dy})`);
        if(cSevLabelNames[i].startsWith("S. ")){ t.append("tspan").text("S. "); t.append("tspan").attr("font-style","italic").text(cSevLabelNames[i].slice(3)); }
        else t.text(cSevLabelNames[i]);
      });
    }
    const nm=cPanelNames[pi];
    if(nm.length===1) txt(g,x0+14,568,nm[0],{size:23,fill:"#8c8c8c"});
    else { const rx=pi===2?516:681; txt(g,rx,613,nm[0],{size:23,fill:"#8c8c8c",anchor:"end"}); txt(g,rx,638,nm[1],{size:23,fill:"#8c8c8c",anchor:"end"}); }
  });
  txt(g,3,524,"C",{size:19,weight:"bold"});
  txt(g,30,522,"One point = all epitopes across all children",{size:16});
  txt(g,20,605,"gMean EBS",{size:16,weight:"bold",anchor:"middle",rotate:-90});
  txt(g,36,605,"(time point 2)",{size:16,weight:"bold",anchor:"middle",rotate:-90});
  txt(g,380,724,"gMean EBS (time point 1)",{size:16,weight:"bold",anchor:"middle"});
  txt(g,350,753,"Individuals (n) per point",{size:14,weight:"bold",anchor:"end"});
  drawSym(g,"c",365,748,110,"#111",1); txt(g,372,753,"6–10",{size:15});
  drawSym(g,"s",419,748,100,"#111",1); txt(g,427,753,"11–20",{size:15});
  drawSym(g,"d",488,748,70,"#111",1); txt(g,496,753,"21+",{size:15});
  txt(g,247,774,"fdr p−value",{size:14,weight:"bold",anchor:"end"});
  [[272,"#c0c0c0","NS",281],[323,"#3b46a8","< 0.05",330],[395,"#f6a623","< 0.001",402],[467,"#ee2a24","< 0.0001",480]].forEach(e=>{
    g.append("circle").attr("cx",e[0]).attr("cy",769).attr("r",6.5).attr("fill",e[1]);
    txt(g,e[3],774,e[2],{size:15}); });
})();
</script></body></html>
